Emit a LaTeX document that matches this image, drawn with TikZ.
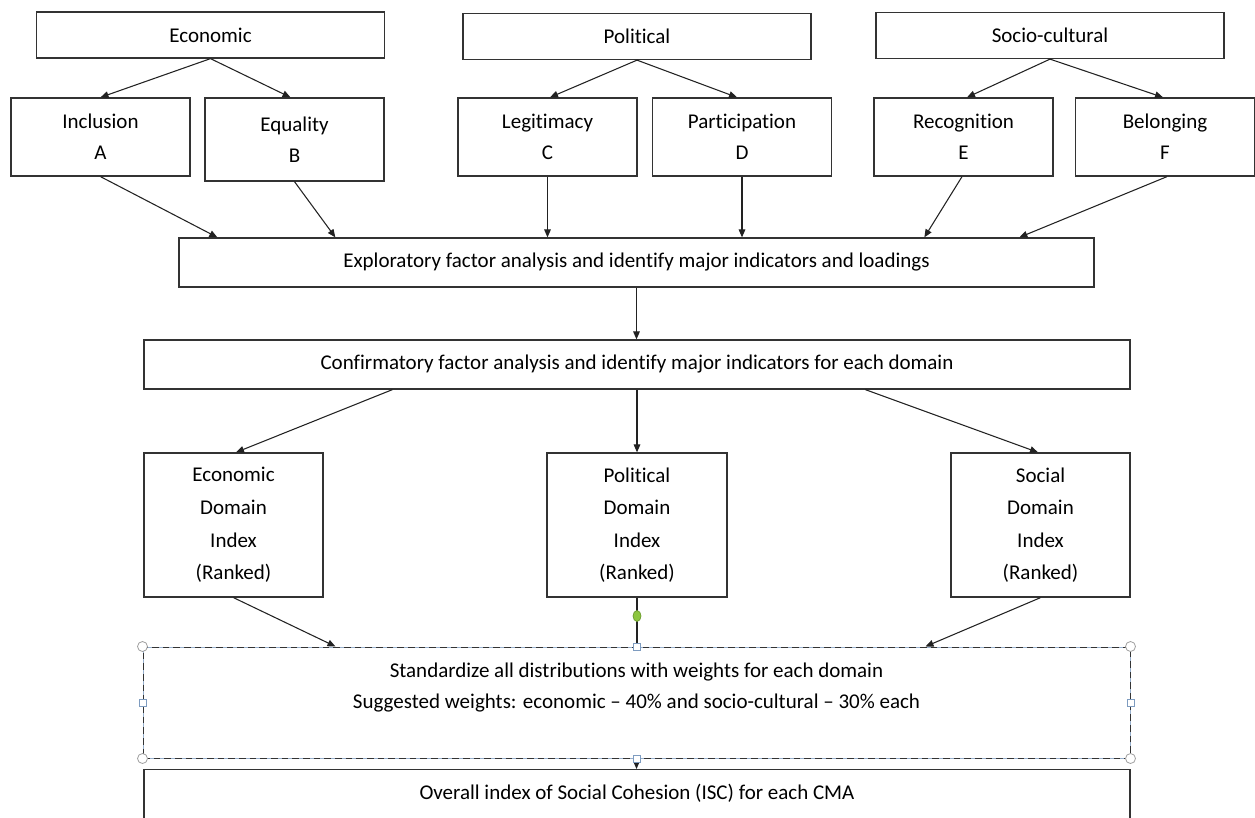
\documentclass[tikz,border=0pt]{standalone}
\usepackage{fontspec}
\setmainfont{Carlito}[Ligatures=NoCommon]
\usetikzlibrary{arrows.meta,calc}
\newcommand\pxu{0.75pt}
\definecolor{boxline}{HTML}{333333}
\definecolor{arrowline}{HTML}{222222}
\definecolor{handleblue}{HTML}{7E9CC0}
\definecolor{handlegrey}{HTML}{A0A0A0}
\definecolor{rotgreen}{HTML}{8DC63F}
\definecolor{rotgreenedge}{HTML}{6A9A2E}

\begin{document}
\begin{tikzpicture}[x=0.75pt,y=-0.75pt,
  box/.style={draw=boxline, line width=0.95pt, fill=white, inner sep=0pt, align=center,
    font=\fontsize{15.75pt}{23.5pt}\selectfont},
  dombox/.style={box, minimum width=179*\pxu, minimum height=144*\pxu,
    font=\fontsize{15.75pt}{24.4pt}\selectfont},
  subbox/.style={box, minimum width=179*\pxu, minimum height=78*\pxu},
  topbox/.style={box, minimum width=348*\pxu, minimum height=46*\pxu},
  txt/.style={inner sep=0pt, align=center, font=\fontsize{15.75pt}{23.5pt}\selectfont},
  conn/.style={draw=arrowline, line width=0.8pt, -{Triangle[length=6pt,width=5pt]}},
  plain/.style={draw=arrowline, line width=0.8pt},
  handlesq/.style={draw=handleblue, fill=white, line width=0.6pt},
  handlecirc/.style={draw=handlegrey, fill=white, line width=0.6pt}
]
\useasboundingbox (0,0) rectangle (1255,817);
\clip (0,0) rectangle (1255,817);

% domain headings
\node[topbox] (eco) at (210.5,35) {Economic};
\node[topbox] (pol) at (637,36.5) {Political};
\node[topbox] (soc) at (1050,35.5) {Socio-cultural};

% dimensions
\node[subbox] (incl) at (100.5,137) {Inclusion\\A};
\node[subbox, minimum height=83*\pxu] (equal) at (294.5,139.5) {Equality\\B};
\node[subbox] (legit) at (547.5,137) {Legitimacy\\C};
\node[subbox] (partic) at (742,137) {Participation\\D};
\node[subbox] (recog) at (963.5,137) {Recognition\\E};
\node[subbox] (belong) at (1165,137) {Belonging\\F};

% factor analysis steps
\node[box, minimum width=915*\pxu, minimum height=49*\pxu] (expl) at (636.5,262.5)
  {Exploratory factor analysis and identify major indicators and loadings};
\node[box, minimum width=986*\pxu, minimum height=49*\pxu] (conf) at (637,364.5)
  {Confirmatory factor analysis and identify major indicators for each domain};

% domain indices
\node[dombox] (ecod) at (233.5,525) {Economic\\Domain\\Index\\(Ranked)};
\node[dombox, minimum width=180*\pxu] (pold) at (637,525) {Political\\Domain\\Index\\(Ranked)};
\node[dombox] (socd) at (1040.5,525) {Social\\Domain\\Index\\(Ranked)};

% weighting (selected shape with dashed frame)
\node[box, draw=handleblue!80, line width=0.75pt,
  postaction={draw=black!80, line width=0.65pt, dash pattern=on 5pt off 3pt},
  minimum width=987*\pxu, minimum height=111*\pxu] (std) at (636.5,702.5) {};
\node[txt] (stdtext) at (636.5,687.5)
  {Standardize all distributions with weights for each domain\\
   Suggested weights: economic -- 40\% and socio-cultural -- 30\% each};

% final index
\node[box, anchor=north, minimum width=986*\pxu, minimum height=100*\pxu] (overall) at (637,769) {};
\node[txt] (overalltext) at (637,793) {Overall index of Social Cohesion (ISC) for each CMA};

% headings to dimensions
\draw[conn] (eco.south) -- (incl.north);
\draw[conn] (eco.south) -- ([xshift=-4*\pxu]equal.north);
\draw[conn] (pol.south) -- ([xshift=2.5*\pxu]legit.north);
\draw[conn] (pol.south) -- ([xshift=-5*\pxu]partic.north);
\draw[conn] (soc.south) -- ([xshift=3.5*\pxu]recog.north);
\draw[conn] (soc.south) -- ([xshift=-2*\pxu]belong.north);

% dimensions to exploratory analysis
\draw[conn] (incl.south) -- ([xshift=39*\pxu]expl.north west);
\draw[conn] (equal.south) -- ([xshift=157*\pxu]expl.north west);
\draw[conn] (legit.south) -- (legit.south |- expl.north);
\draw[conn] (partic.south) -- (partic.south |- expl.north);
\draw[conn] ([xshift=-1.5*\pxu]recog.south) -- ([xshift=746*\pxu]expl.north west);
\draw[conn] ([xshift=2*\pxu]belong.south) -- ([xshift=841*\pxu]expl.north west);

% exploratory to confirmatory
\draw[conn] (expl.south) -- (expl.south |- conf.north);

% confirmatory to domain indices
\draw[conn] ([xshift=249*\pxu]conf.south west) -- ([xshift=2.5*\pxu]ecod.north);
\draw[conn] (conf.south) -- (pold.north);
\draw[conn] ([xshift=722*\pxu]conf.south west) -- ([xshift=-2.5*\pxu]socd.north);

% domain indices to weighting
\draw[conn] (ecod.south) -- ([xshift=193*\pxu]std.north west);
\draw[plain] (pold.south) -- (pold.south |- std.north);
\draw[conn] (socd.south) -- ([xshift=783*\pxu]std.north west);

% weighting to final index
\draw[conn] (std.south) -- (std.south |- overall.north);

% selection handles
\foreach \a in {north west, north east, south west, south east}
  \draw[handlecirc] (std.\a) circle[radius=5];
\foreach \a in {north, south, west, east}
  \draw[handlesq] ($(std.\a)+(-3.5,-3.5)$) rectangle +(7,7);
\draw[fill=rotgreen, draw=rotgreenedge, line width=0.5pt] (637,616) ellipse[x radius=4, y radius=5.5];
\end{tikzpicture}
\end{document}
